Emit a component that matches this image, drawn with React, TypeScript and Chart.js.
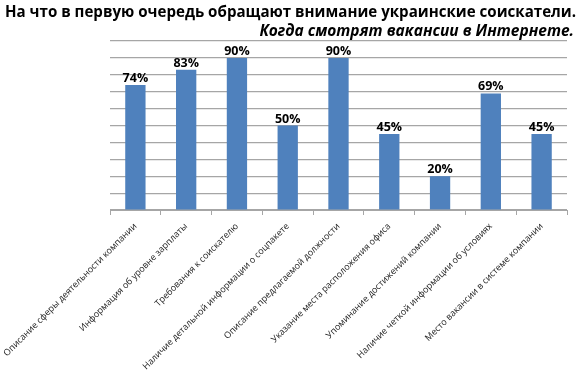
import React, { useEffect, useRef } from "react";
import { Chart, registerables } from "chart.js";

Chart.register(...registerables);

const titleText = "На что в первую очередь обращают внимание украинские соискатели.";
const subtitleText = "Когда смотрят вакансии в Интернете.";

const categories = [
  "Описание сферы деятельности компании",
  "Информация об уровне зарплаты",
  "Требования к соискателю",
  "Наличие детальной информации о соцпакете",
  "Описание предлагаемой должности",
  "Указание места расположения офиса",
  "Упоминание достижений компании",
  "Наличие четкой информации об условиях",
  "Место вакансии в системе компании",
];

const values = [74, 83, 90, 50, 90, 45, 20, 69, 45];

const yMin = 0;
const yMax = 100;
const yStep = 10;

const titlePlugin = {
  id: "titles",
  afterDraw(chart: any) {
    const ctx = chart.ctx;
    ctx.save();
    ctx.fillStyle = "#000";
    ctx.textBaseline = "alphabetic";
    ctx.font = "bold 15.5px 'Open Sans'";
    ctx.textAlign = "left";
    ctx.fillText(titleText, 5, 16.5, 571);
    ctx.font = "italic bold 15.5px 'Open Sans'";
    ctx.textAlign = "right";
    ctx.fillText(subtitleText, 574, 35.5, 329);
    ctx.restore();
  },
};

const valueLabelPlugin = {
  id: "valueLabels",
  afterDatasetsDraw(chart: any) {
    const ctx = chart.ctx;
    const meta = chart.getDatasetMeta(0);
    ctx.save();
    ctx.fillStyle = "#000";
    ctx.font = "bold 12.5px 'Open Sans'";
    ctx.textAlign = "center";
    ctx.textBaseline = "alphabetic";
    meta.data.forEach((bar: any, i: number) => {
      ctx.fillText(values[i] + "%", bar.x, bar.y - 3);
    });
    ctx.restore();
  },
};

export default function App() {
  const ref = useRef<HTMLCanvasElement>(null);
  useEffect(() => {
    if (!ref.current) return;
    const chart = new Chart(ref.current, {
      type: "bar",
      data: {
        labels: categories,
        datasets: [
          {
            data: values,
            backgroundColor: "#4f81bd",
            barPercentage: 0.4,
            categoryPercentage: 1,
          },
        ],
      },
      options: {
        animation: false,
        responsive: false,
        layout: { padding: { left: 110, right: 13, top: 41, bottom: 0 } },
        plugins: {
          legend: { display: false },
          tooltip: { enabled: false },
          title: { display: false },
        },
        scales: {
          x: {
            grid: {
              drawOnChartArea: false,
              drawTicks: true,
              tickLength: 5,
              color: "#a6a6a6",
            },
            border: { display: true, color: "#a6a6a6" },
            ticks: {
              autoSkip: false,
              minRotation: 45,
              maxRotation: 45,
              color: "#222",
              font: { family: "'Open Sans'", size: 9 },
              padding: 6,
              labelOffset: 0,
            },
            afterFit(scale: any) {
              scale.height = 167;
              scale.paddingLeft = 0;
              scale.paddingRight = 0;
            },
          },
          y: {
            min: yMin,
            max: yMax,
            ticks: { display: false, stepSize: yStep },
            grid: { color: "#a6a6a6", drawTicks: false, lineWidth: 1.2 },
            border: { display: false },
            afterFit(scale: any) {
              scale.width = 0;
            },
          },
        },
      },
      plugins: [titlePlugin, valueLabelPlugin],
    });
    return () => chart.destroy();
  }, []);
  return (
    <div style={{ position: "absolute", left: 0, top: 0, width: 580, height: 377, background: "#fff" }}>
      <canvas ref={ref} width={580} height={377} />
    </div>
  );
}
